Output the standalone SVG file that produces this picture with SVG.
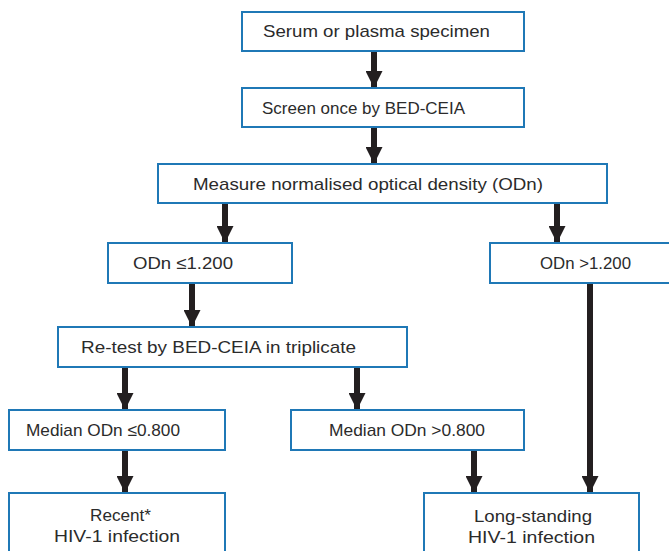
<svg xmlns="http://www.w3.org/2000/svg" width="669" height="551" viewBox="0 0 669 551">
<defs>
<style>
.box{fill:#fff;stroke:#1f78b6;stroke-width:2}
.t{font-family:"Liberation Sans","DejaVu Sans",sans-serif;font-size:17px;fill:#2b2b2b}
.c{text-anchor:middle}
.ln{stroke:#231f20;stroke-width:6;fill:none}
</style>
<marker id="ah" markerUnits="userSpaceOnUse" markerWidth="17" markerHeight="17" refX="8.5" refY="17" orient="auto-start-reverse" viewBox="0 0 17 17">
<path d="M0,0 L17,0 L8.5,17 Z" fill="#231f20" transform="rotate(0)"/>
</marker>
<marker id="ad" markerUnits="userSpaceOnUse" markerWidth="17" markerHeight="17" refX="17" refY="8.5" orient="auto" viewBox="0 0 17 17">
<path d="M0,0 L17,8.5 L0,17 Z" fill="#231f20"/>
</marker>
</defs>
<rect width="669" height="551" fill="#fff"/>
<g id="connectors">
<line class="ln" x1="374" y1="51" x2="374" y2="88" marker-end="url(#ad)"/>
<line class="ln" x1="374" y1="127" x2="374" y2="164" marker-end="url(#ad)"/>
<line class="ln" x1="225" y1="203" x2="225" y2="243" marker-end="url(#ad)"/>
<line class="ln" x1="557" y1="203" x2="557" y2="243" marker-end="url(#ad)"/>
<line class="ln" x1="192" y1="283" x2="192" y2="327" marker-end="url(#ad)"/>
<line class="ln" x1="590" y1="283" x2="590" y2="493" marker-end="url(#ad)"/>
<line class="ln" x1="125" y1="367" x2="125" y2="410" marker-end="url(#ad)"/>
<line class="ln" x1="357" y1="367" x2="357" y2="410" marker-end="url(#ad)"/>
<line class="ln" x1="125" y1="450" x2="125" y2="493" marker-end="url(#ad)"/>
<line class="ln" x1="474" y1="450" x2="474" y2="493" marker-end="url(#ad)"/>
</g>
<g id="n1"><rect class="box" x="242" y="12" width="282" height="39"/><text class="t" x="263" y="37" textLength="227" lengthAdjust="spacingAndGlyphs">Serum or plasma specimen</text></g>
<g id="n2"><rect class="box" x="242" y="88" width="282" height="39"/><text class="t" x="262" y="114" textLength="203" lengthAdjust="spacingAndGlyphs">Screen once by BED-CEIA</text></g>
<g id="n3"><rect class="box" x="158" y="164" width="449" height="39"/><text class="t" x="193" y="190" textLength="350" lengthAdjust="spacingAndGlyphs">Measure normalised optical density (ODn)</text></g>
<g id="n4"><rect class="box" x="108" y="243" width="184" height="40"/><text class="t" x="133" y="269" textLength="100" lengthAdjust="spacingAndGlyphs">ODn ≤1.200</text></g>
<g id="n5"><rect class="box" x="490" y="243" width="180" height="40"/><text class="t" x="540" y="269" textLength="91" lengthAdjust="spacingAndGlyphs">ODn &gt;1.200</text></g>
<g id="n6"><rect class="box" x="58" y="327" width="349" height="40"/><text class="t" x="81" y="353" textLength="275" lengthAdjust="spacingAndGlyphs">Re-test by BED-CEIA in triplicate</text></g>
<g id="n7"><rect class="box" x="9" y="410" width="216" height="40"/><text class="t" x="26" y="436" textLength="154" lengthAdjust="spacingAndGlyphs">Median ODn ≤0.800</text></g>
<g id="n8"><rect class="box" x="291" y="410" width="233" height="40"/><text class="t" x="329" y="436" textLength="156" lengthAdjust="spacingAndGlyphs">Median ODn &gt;0.800</text></g>
<g id="n9"><rect class="box" x="9" y="493" width="216" height="70"/><text class="t" x="90" y="521" textLength="61" lengthAdjust="spacingAndGlyphs">Recent*</text><text class="t" x="54" y="542" textLength="126" lengthAdjust="spacingAndGlyphs">HIV-1 infection</text></g>
<g id="n10"><rect class="box" x="424" y="493" width="215" height="70"/><text class="t" x="474" y="522" textLength="118" lengthAdjust="spacingAndGlyphs">Long-standing</text><text class="t" x="468" y="543" textLength="127" lengthAdjust="spacingAndGlyphs">HIV-1 infection</text></g>
</svg>
